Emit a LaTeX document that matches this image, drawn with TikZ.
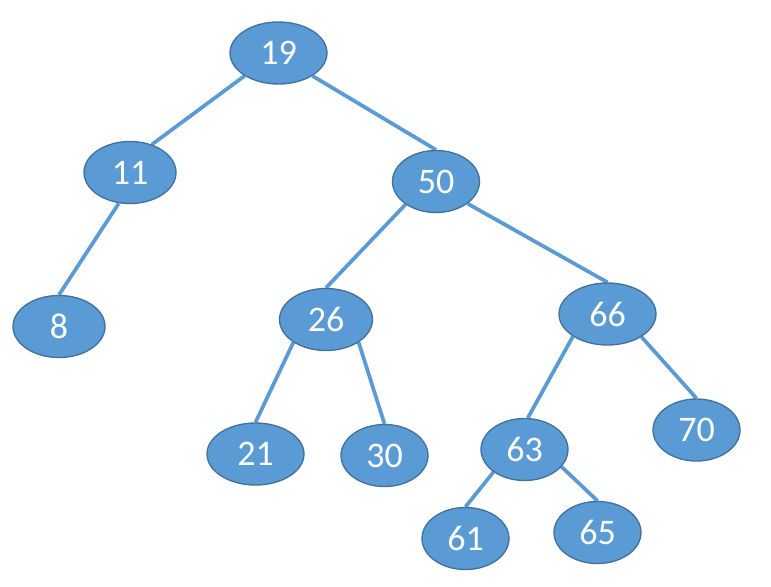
\documentclass[tikz,border=0pt]{standalone}
\usepackage{fontspec}
\setmainfont{Carlito}
\usetikzlibrary{shapes.geometric,backgrounds}
\definecolor{nodefill}{HTML}{5B9BD5}
\definecolor{nodeline}{HTML}{41719C}
\definecolor{edgecol}{HTML}{5B9BD5}
\tikzset{
  treenode/.style={ellipse, fill=nodefill, draw=nodeline, line width=1pt,
    inner sep=0pt, minimum height=46.5pt, text=white,
    font=\fontsize{27}{30}\selectfont},
  treeedge/.style={draw=edgecol, line width=2.8pt}
}
\begin{document}
\begin{tikzpicture}[x=0.75pt,y=-0.75pt]
\useasboundingbox (0,0) rectangle (771,586);
\node[treenode, minimum width=72.75pt] (n19) at (278.5,53) {19};
\node[treenode, minimum width=69pt] (n11) at (130,172.5) {11};
\node[treenode, minimum width=65.25pt] (n50) at (436,181.5) {50};
\node[treenode, minimum width=69pt] (n8) at (59,326.5) {8};
\node[treenode, minimum width=69.75pt] (n26) at (326,319.5) {26};
\node[treenode, minimum width=72.75pt] (n66) at (607.5,314) {66};
\node[treenode, minimum width=72.75pt] (n21) at (255.5,454) {21};
\node[treenode, minimum width=65.25pt] (n30) at (384.5,455.5) {30};
\node[treenode, minimum width=65.25pt] (n63) at (524.5,449.5) {63};
\node[treenode, minimum width=65.25pt] (n70) at (696.5,430) {70};
\node[treenode, minimum width=65.25pt] (n61) at (465.5,538.5) {61};
\node[treenode, minimum width=65.25pt] (n65) at (597.5,532.5) {65};
\begin{scope}[on background layer]
\draw[treeedge] (n19.214.5) -- (n11.52);
\draw[treeedge] (n19.326) -- (n50.north);
\draw[treeedge] (n11.250.7) -- (n8.north);
\draw[treeedge] (n50.217) -- (n26.north);
\draw[treeedge] (n50.325) -- (n66.north);
\draw[treeedge] (n26.215) -- (n21.north);
\draw[treeedge] (n26.325) -- (n30.north);
\draw[treeedge] (n66.213.7) -- (n63.84);
\draw[treeedge] (n66.326) -- (n70.north);
\draw[treeedge] (n63.216.7) -- (n61.north);
\draw[treeedge] (n63.335) -- (n65.north);
\end{scope}
\end{tikzpicture}
\end{document}
